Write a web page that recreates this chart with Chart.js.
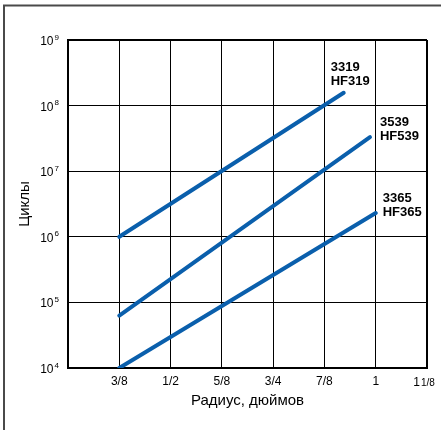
<!DOCTYPE html>
<html>
<head>
<meta charset="utf-8">
<script src="https://cdn.jsdelivr.net/npm/chart.js@4.4.1/dist/chart.umd.min.js"></script>
<style>
  body { margin: 0; background: #fff; }
  #wrap { position: absolute; left: 0; top: 0; width: 441px; height: 430px; }
</style>
</head>
<body>
<div id="wrap"><canvas id="myChart" width="441" height="430"></canvas></div>
<script>
// radius, inches (x) and cycles (y)
var radius3319 = [0.375, 0.922];
var cycles3319 = [1.0e6, 1.57e8];
var radius3539 = [0.375, 0.986];
var cycles3539 = [6.3e4, 3.3e7];
var radius3365 = [0.375, 1.0];
var cycles3365 = [1.0e4, 2.3e6];

var seriesLabels = [['3319', 'HF319'], ['3539', 'HF539'], ['3365', 'HF365']];

var xGridValues = [0.25, 0.375, 0.5, 0.625, 0.75, 0.875, 1, 1.125];
var xTickLabels = ['', '3/8', '1/2', '5/8', '3/4', '7/8', '1', ''];
var yTickValues = [1e4, 1e5, 1e6, 1e7, 1e8, 1e9];
var yTickExponents = ['4', '5', '6', '7', '8', '9'];

var xTitle = 'Радиус, дюймов';
var yTitle = 'Циклы';

var lineColor = '#0a5fac';
var fontFamily = '"Liberation Sans", Arial, sans-serif';

// where the series names sit relative to the end of each line
var labelOffsets = [[-13, -22], [10, -11], [7, -11]];

function toPoints(xs, ys) {
    var pts = [];
    for (var i = 0; i < xs.length; i++) {
        pts.push({x: xs[i], y: ys[i]});
    }
    return pts;
}

function makeSet(name, xs, ys) {
    return {
        label: name,
        data: toPoints(xs, ys),
        borderColor: lineColor,
        backgroundColor: lineColor,
        borderWidth: 4,
        borderCapStyle: 'round',
        pointRadius: 0,
        fill: false
    };
}

var extras = {
    id: 'extras',
    beforeDraw: function (chart) {
        var ctx = chart.ctx;
        ctx.save();
        ctx.fillStyle = '#fff';
        ctx.fillRect(0, 0, chart.width, chart.height);
        // outer frame (left and top only)
        ctx.strokeStyle = '#4a4a4a';
        ctx.lineWidth = 2;
        ctx.beginPath();
        ctx.moveTo(4, chart.height);
        ctx.lineTo(4, 5.5);
        ctx.lineTo(chart.width, 5.5);
        ctx.stroke();
        ctx.restore();
    },
    afterDraw: function (chart) {
        var ctx = chart.ctx;
        var xs = chart.scales.x, ys = chart.scales.y;
        ctx.save();
        ctx.fillStyle = '#000';

        // y tick labels 10^n
        for (var i = 0; i < yTickValues.length; i++) {
            var py = ys.getPixelForValue(yTickValues[i]);
            ctx.font = '12px ' + fontFamily;
            ctx.textAlign = 'right';
            ctx.textBaseline = 'alphabetic';
            ctx.fillText('10', 53.5, py + 5);
            ctx.font = '8px ' + fontFamily;
            ctx.textAlign = 'left';
            ctx.fillText(yTickExponents[i], 54.5, py - 0.5);
        }

        // last x label: 1 1/8
        var px = xs.getPixelForValue(1.125);
        ctx.font = '12px ' + fontFamily;
        ctx.textAlign = 'right';
        ctx.fillText('1', px - 7, 385.5);
        ctx.font = '10px ' + fontFamily;
        ctx.textAlign = 'left';
        ctx.fillText('1/8', px - 6, 385.5);

        // series names next to line ends
        ctx.font = 'bold 13px ' + fontFamily;
        ctx.textAlign = 'left';
        chart.data.datasets.forEach(function (ds, k) {
            var last = ds.data[ds.data.length - 1];
            var ex = xs.getPixelForValue(last.x);
            var ey = ys.getPixelForValue(last.y);
            var lines = seriesLabels[k];
            for (var j = 0; j < lines.length; j++) {
                ctx.fillText(lines[j], ex + labelOffsets[k][0], ey + labelOffsets[k][1] + j * 14);
            }
        });
        ctx.restore();
    }
};

var ctx = document.getElementById('myChart').getContext('2d');

var chart = new Chart(ctx, {
    type: 'line',
    data: {
        datasets: [
            makeSet('3319 HF319', radius3319, cycles3319),
            makeSet('3539 HF539', radius3539, cycles3539),
            makeSet('3365 HF365', radius3365, cycles3365)
        ]
    },
    options: {
        responsive: false,
        animation: false,
        devicePixelRatio: 1,
        layout: { padding: { left: 0, top: 40, right: 14, bottom: 0 } },
        plugins: {
            legend: { display: false },
            tooltip: { enabled: false }
        },
        scales: {
            x: {
                type: 'linear',
                min: 0.25,
                max: 1.125,
                afterBuildTicks: function (scale) {
                    scale.ticks = xGridValues.map(function (v) { return {value: v}; });
                },
                afterFit: function (scale) { scale.height = 62; },
                ticks: {
                    color: '#000',
                    padding: 6,
                    maxRotation: 0,
                    autoSkip: false,
                    font: { size: 12, family: fontFamily },
                    callback: function (v) {
                        var i = xGridValues.indexOf(v);
                        return i >= 0 ? xTickLabels[i] : '';
                    }
                },
                grid: {
                    color: '#000',
                    drawTicks: false,
                    lineWidth: function (c) { return c.tick && c.tick.value === 1.125 ? 2 : 1; }
                },
                border: { color: '#000', width: 2 },
                title: {
                    display: true,
                    text: xTitle,
                    color: '#000',
                    font: { size: 15, family: fontFamily },
                    padding: { top: 0, bottom: 20 }
                }
            },
            y: {
                type: 'logarithmic',
                min: 1e4,
                max: 1e9,
                afterBuildTicks: function (scale) {
                    scale.ticks = yTickValues.map(function (v) { return {value: v}; });
                },
                afterFit: function (scale) { scale.width = 68; },
                ticks: { display: false },
                grid: {
                    color: '#000',
                    drawTicks: false,
                    lineWidth: function (c) { return c.tick && c.tick.value === 1e9 ? 2 : 1; }
                },
                border: { color: '#000', width: 2 },
                title: {
                    display: true,
                    text: yTitle,
                    color: '#000',
                    font: { size: 15, family: fontFamily },
                    padding: { top: 16, bottom: 0 }
                }
            }
        }
    },
    plugins: [extras]
});
</script>
</body>
</html>
